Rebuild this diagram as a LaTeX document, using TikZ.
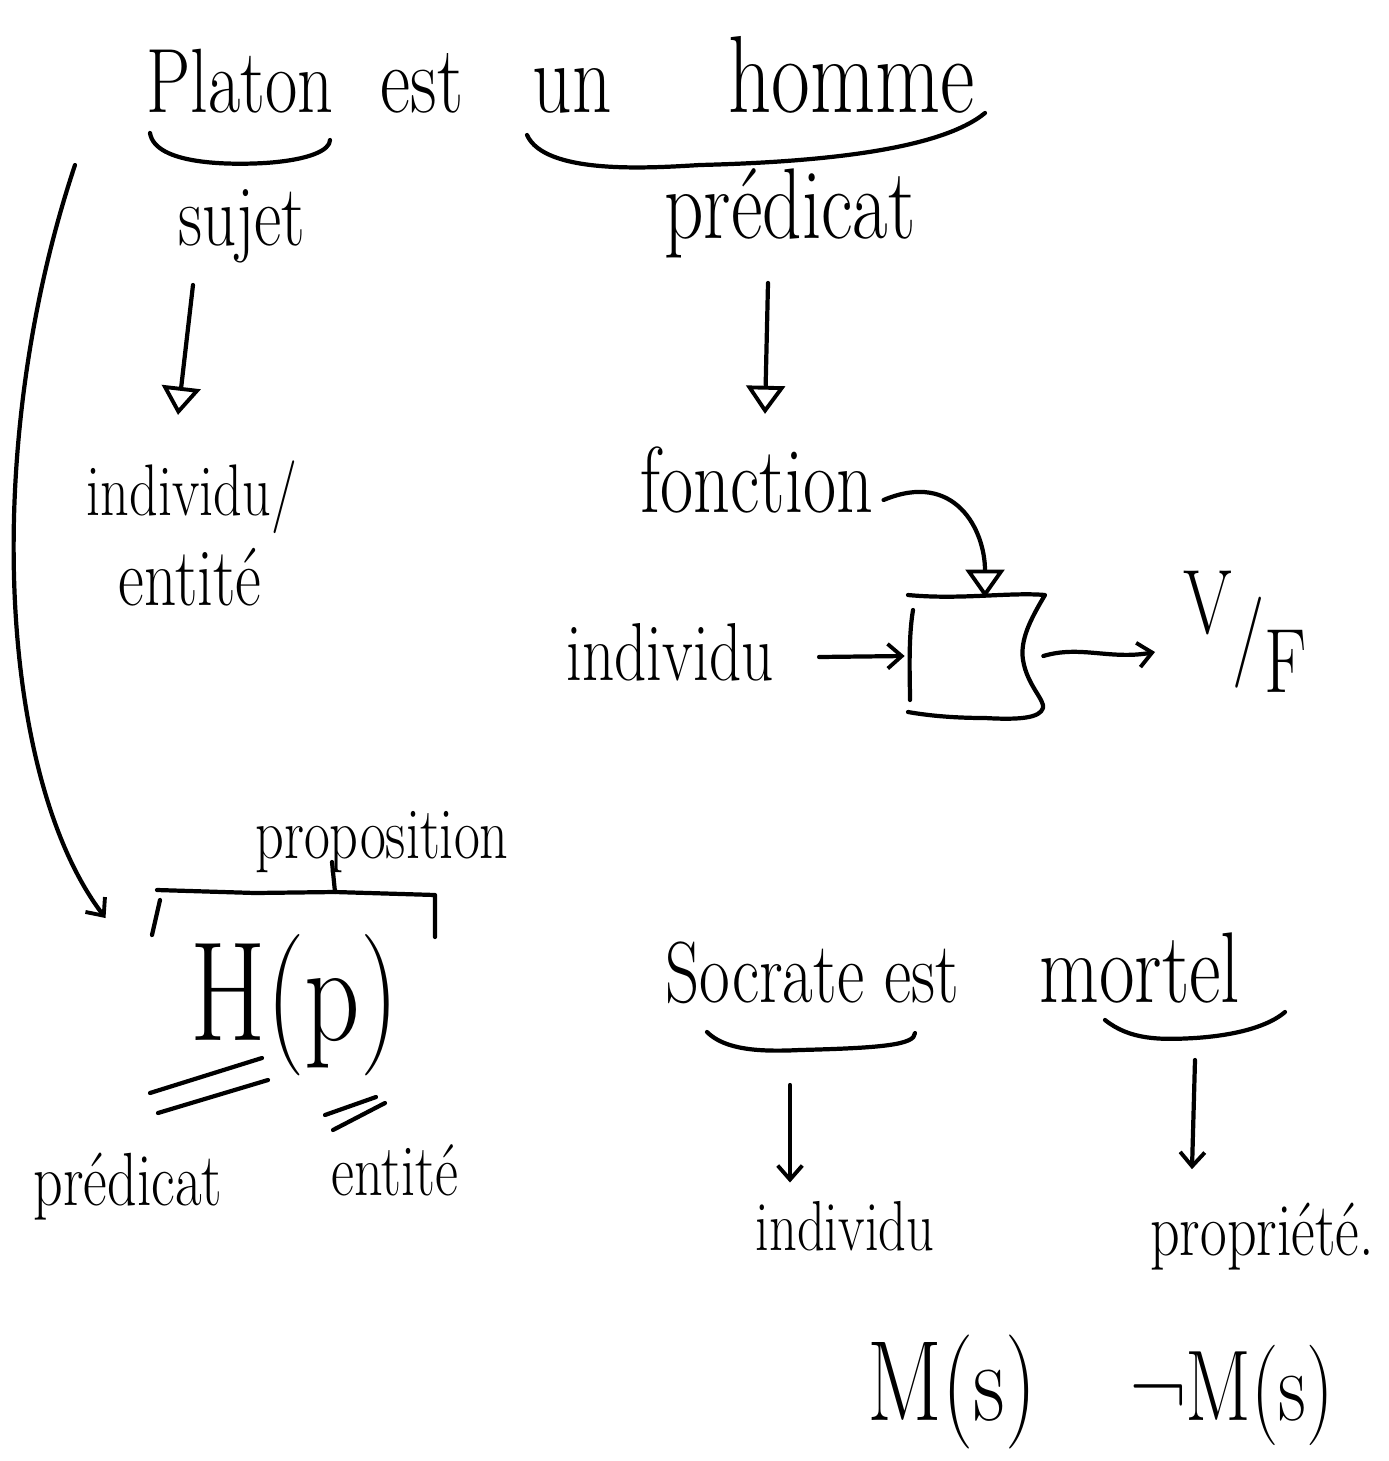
\documentclass[tikz,border=0pt]{standalone}
\usepackage{graphicx}
\usetikzlibrary{arrows.meta,calc}
\newcommand\hw[2]{\scalebox{1}[1.3]{\fontsize{#1}{#1}\selectfont #2}}
\tikzset{
 ink/.style={line width=2.4pt,line cap=round,line join=round},
 tri/.style={ink,-{Triangle[open,length=16pt,width=22pt,line width=2.2pt]}},
 barb/.style={ink,-{Straight Barb[length=8pt,width=14pt,line width=2.2pt]}},
 lbl/.style={inner sep=0pt,anchor=base},
}
\begin{document}
\begin{tikzpicture}[x=0.02cm,y=-0.02cm]
\useasboundingbox (0,0) rectangle (1389,1461);
% ---- top sentence
\node[lbl] (w1) at (240,112) {\hw{40}{Platon}};
\node[lbl] (w2) at (422,112) {\hw{42}{est}};
\node[lbl] (w3) at (572,112) {\hw{44}{un}};
\node[lbl] (w4) at (852,112) {\hw{48}{homme}};
\draw[ink] (150,133) .. controls (155,165) and (230,165) .. (265,163) .. controls (310,160) and (330,150) .. (330,140);
\draw[ink] (527,135) .. controls (545,175) and (650,168) .. (700,165) .. controls (820,162) and (940,150) .. (985,113);
\node[lbl] (sujet) at (242,245) {\hw{38}{sujet}};
\node[lbl] (pred1) at (790,238) {\hw{44}{prédicat}};
\node[lbl] (ind1) at (192,515) {\hw{32}{individu/}};
\node[lbl] (ent1) at (190,605) {\hw{36}{entité}};
\node[lbl] (fonc) at (757,512) {\hw{41}{fonction}};
\node[lbl] (ind2) at (670,680) {\hw{36}{individu}};
\node[minimum width=2.6cm,minimum height=2.32cm,inner sep=0pt] (box) at (978,656) {};
\node[lbl] (VF) at (1245,665) {\hw{40}{\raisebox{14pt}{V}/\raisebox{-12pt}{F}}};
\draw[tri] ($(sujet.south)+(-49,22)$) -- ($(ind1.north)+(-14,-45)$);
\draw[tri] ($(pred1.south)+(-22,25)$) -- ($(fonc.north)+(8,-32)$);
\draw[tri] ($(fonc.base east)+(10,-12)$) .. controls (955,470) and (985,530) .. ($(box.north)+(7,0)$);
\draw[barb] ($(ind2.base east)+(45,-23)$) -- ($(box.west)+(-8,0)$);
\draw[barb] (box.east) .. controls (1080,645) and (1110,660) .. ($(VF.base west)+(-28,-13)$);
% box outline
\draw[ink] (913,610) .. controls (908,640) and (910,680) .. (910,700);
\draw[ink] (908,595) .. controls (960,600) and (1010,592) .. (1045,595) .. controls (1030,620) and (1020,640) .. (1023,660) .. controls (1027,685) and (1045,700) .. (1043,708) .. controls (1040,718) and (1020,720) .. (985,718) .. controls (950,718) and (925,715) .. (908,712);
% ---- H(p)
\node[lbl] (prop) at (382,858) {\hw{32}{proposition}};
\node[lbl] (Hp) at (295,1040) {\hw{62}{H(p)}};
\draw[ink] (157,890) -- (255,893) -- (335,892) -- (435,895) -- (435,937);
\draw[ink] (160,900) -- (152,935);
\draw[ink] (335,892) -- (332,862);
\draw[ink] (150,1093) -- (262,1058);
\draw[ink] (158,1113) -- (268,1080);
\draw[ink] (325,1115) -- (376,1097);
\draw[ink] (333,1130) -- (385,1103);
\node[lbl] (pred2) at (128,1205) {\hw{33}{prédicat}};
\node[lbl] (ent2) at (395,1195) {\hw{32}{entité}};
\coordinate (lstart) at (75,165);
\draw[barb] (lstart) .. controls (-20,450) and (0,780) .. ($(Hp.base west)+(-85,-122)$);
% ---- Socrate
\node[lbl] (s1) at (765,1002) {\hw{38}{Socrate}};
\node[lbl] (s2) at (922,1002) {\hw{38}{est}};
\node[lbl] (s3) at (1140,1002) {\hw{44}{mortel}};
\draw[ink] (707,1032) .. controls (725,1050) and (760,1052) .. (800,1050) .. controls (880,1048) and (915,1045) .. (915,1033);
\draw[ink] (1105,1020) .. controls (1130,1040) and (1160,1040) .. (1195,1038) .. controls (1240,1035) and (1270,1025) .. (1285,1012);
\node[lbl] (ind3) at (845,1250) {\hw{31}{individu}};
\node[lbl] (propr) at (1262,1255) {\hw{33}{propriété.}};
\draw[barb] ($(s1.base)+(25,83)$) -- ($(ind3.north)+(-55,-18)$);
\draw[barb] ($(s3.base)+(55,58)$) -- ($(propr.north)+(-70,-33)$);
\node[lbl] (Ms) at (952,1420) {\hw{50}{M(s)}};
\node[lbl] (nMs) at (1232,1420) {\hw{44}{¬M(s)}};
\end{tikzpicture}
\end{document}
